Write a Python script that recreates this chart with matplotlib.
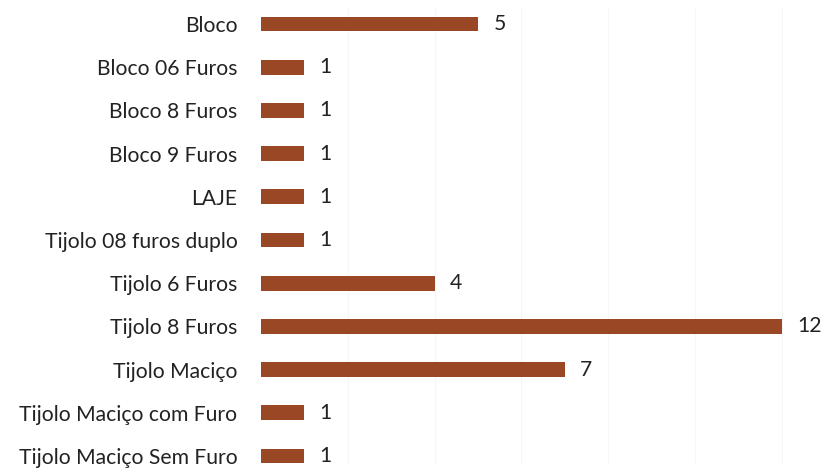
import matplotlib
matplotlib.use("Agg")
import matplotlib.pyplot as plt

categories = ["Bloco", "Bloco 06 Furos", "Bloco 8 Furos", "Bloco 9 Furos", "LAJE",
              "Tijolo 08 furos duplo", "Tijolo 6 Furos", "Tijolo 8 Furos", "Tijolo Maciço",
              "Tijolo Maciço com Furo", "Tijolo Maciço Sem Furo"]
values = [5, 1, 1, 1, 1, 1, 4, 12, 7, 1, 1]

plt.rcParams['font.family'] = ['Lato', 'DejaVu Sans']

fig = plt.figure(figsize=(8.24, 4.69), dpi=100)
W, H = 824, 469
left = 261 / W
width = 12.5 * 43.4 / W
first_c, last_c = 24.0, 456.0
step = (last_c - first_c) / 10
top_px = first_c - 0.4 * step
bot_px = last_c + 0.2 * step
ax = fig.add_axes([left, (H - bot_px) / H, width, (bot_px - top_px) / H])

y = list(range(len(categories)))
ax.barh(y, values, height=0.34, color='#9A4726')
ax.set_ylim(10.2, -0.4)
ax.set_xlim(0, 12.5)
for i, v in enumerate(values):
    ax.annotate(str(v), (v, i), xytext=(11, 0), textcoords='offset points',
                va='center', ha='left', fontsize=15.2, color='#222222', annotation_clip=False)

ax.set_yticks(y)
ax.set_yticklabels(categories, fontsize=15.2, color='#222222')
ax.tick_params(axis='y', length=0, pad=17)
ax.set_xticks([2, 4, 6, 8, 10, 12])
ax.tick_params(axis='x', length=0, labelbottom=False)
ax.grid(axis='x', color='#f6f6f6', linewidth=0.8)
ax.set_axisbelow(True)
for s in ax.spines.values():
    s.set_visible(False)

fig.savefig("out.png", dpi=100)
